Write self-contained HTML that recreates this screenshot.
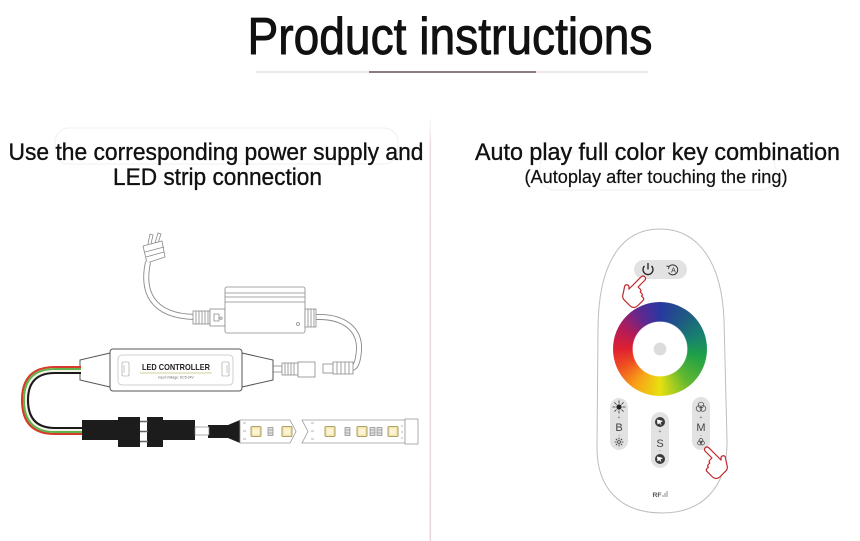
<!DOCTYPE html>
<html><head><meta charset="utf-8"><style>
html,body{margin:0;padding:0;background:#fff;}
#w{position:relative;width:860px;height:541px;overflow:hidden;background:#fff;}
svg{position:absolute;left:0;top:0;}
#ring{position:absolute;left:613px;top:302px;width:94px;height:94px;border-radius:50%;
background:radial-gradient(circle at 50% 50%, #dcdcdc 0 6px, #fff 6.8px 27px, rgba(255,255,255,0) 27.8px),
conic-gradient(from 0deg, #2838a0 0deg, #1f5c80 40deg, #178070 70deg, #1fa048 100deg, #62b830 140deg, #e8e010 180deg, #f8a018 215deg, #ef5020 245deg, #e02030 270deg, #b01c5a 300deg, #602890 330deg, #2838a0 360deg);}
</style></head><body><div id="w">
<svg width="860" height="541" viewBox="0 0 860 541" font-family="'Liberation Sans', sans-serif">
<defs>
<linearGradient id="vd" x1="0" y1="0" x2="0" y2="1"><stop offset="0" stop-color="#f4eaea" stop-opacity="0"/><stop offset="0.08" stop-color="#ecdcdc"/><stop offset="1" stop-color="#ead8d8"/></linearGradient>
</defs>
<!-- title -->
<text x="450" y="54" text-anchor="middle" font-size="52" fill="#111" stroke="#111" stroke-width="0.9" textLength="405" lengthAdjust="spacingAndGlyphs">Product instructions</text>
<line x1="256" y1="72" x2="648" y2="72" stroke="#e6e0e0" stroke-width="1.5"/>
<line x1="369" y1="72" x2="536" y2="72" stroke="#8c7c82" stroke-width="2"/>
<!-- divider -->
<rect x="429.5" y="112" width="1.6" height="429" fill="url(#vd)"/>
<!-- faint boxes -->
<rect x="55" y="128" width="343" height="36" rx="14" fill="none" stroke="#f3f3f3" stroke-width="1.2"/>
<rect x="540" y="152" width="235" height="38" rx="14" fill="none" stroke="#f3f3f3" stroke-width="1.2"/>
<!-- subtitles -->
<g fill="#111" stroke="#111" stroke-width="0.35">
<text x="216" y="160" text-anchor="middle" font-size="24" textLength="415" lengthAdjust="spacingAndGlyphs">Use the corresponding power supply and</text>
<text x="217.5" y="185" text-anchor="middle" font-size="24" textLength="209" lengthAdjust="spacingAndGlyphs">LED strip connection</text>
<text x="657.5" y="160" text-anchor="middle" font-size="24" textLength="365" lengthAdjust="spacingAndGlyphs">Auto play full color key combination</text>
<text x="656" y="183" text-anchor="middle" font-size="18" stroke-width="0.2" textLength="263" lengthAdjust="spacingAndGlyphs">(Autoplay after touching the ring)</text>
</g>

<!-- ===== LEFT DIAGRAM ===== -->
<g fill="none" stroke="#8a8a8a" stroke-width="0.8">
 <path d="M148,244 L150,234 L153,235 L151,244 M155,243 L158,233 L161,234 L158,243" fill="#fff"/>
 <path d="M143,246 L162,241 L165,257 L147,263 Z" fill="#fff"/>
 <path d="M145,252 L164,247 M146,257 L164,252"/>
</g>
<path d="M148,262 C142,290 150,316 195,317" fill="none" stroke="#8a8a8a" stroke-width="6"/>
<path d="M148,262 C142,290 150,316 195,317" fill="none" stroke="#fff" stroke-width="4.2"/>
<path d="M316,317 C345,316 360,330 359,350 C358,362 356,367 352,368" fill="none" stroke="#8a8a8a" stroke-width="6"/>
<path d="M316,317 C345,316 360,330 359,350 C358,362 356,367 352,368" fill="none" stroke="#fff" stroke-width="4.2"/>
<g fill="#fff" stroke="#8a8a8a" stroke-width="0.8">
 <rect x="193" y="311" width="17" height="13"/>
 <path d="M196,311v13M199,311v13M202,311v13M205,311v13M208,311v13"/>
 <rect x="210" y="309" width="15" height="17"/>
 <path d="M214,314 h5 v7 h-5z M221,317 a1.2,1.2 0 1,0 0.1,0"/>
 <rect x="225" y="287" width="80" height="46" rx="2"/>
 <path d="M225,293 H305 M225,297 H305 M225,302 H305"/>
 <circle cx="298" cy="324" r="1.5"/>
 <rect x="305" y="309" width="11" height="18"/>
 <path d="M308,309v18M311,309v18M314,309v18"/>
 <rect x="323" y="364" width="10" height="9"/>
 <rect x="333" y="362" width="20" height="12"/>
 <path d="M337,362v12M341,362v12M345,362v12M349,362v12"/>
 <rect x="273" y="366" width="9" height="6"/>
 <rect x="282" y="363" width="16" height="12"/>
 <path d="M285,363v12M288,363v12M291,363v12M294,363v12"/>
 <rect x="298" y="362" width="17" height="15"/>
</g>
<!-- controller -->
<g fill="#fff" stroke="#555" stroke-width="1">
 <path d="M110,353 L80,360 L80,380 L110,387 Z"/>
 <path d="M242,353 L273,360 L273,380 L242,387 Z"/>
 <rect x="110" y="349" width="132" height="42" rx="3"/>
 <rect x="118" y="355" width="115" height="30" rx="4" stroke="#c4c4c4" stroke-width="0.8"/>
 <rect x="122" y="362" width="7" height="14" rx="1" stroke="#999" stroke-width="0.6"/>
 <rect x="222" y="362" width="7" height="14" rx="1" stroke="#999" stroke-width="0.6"/>
</g>
<path d="M124,365v8M227,365v8" stroke="#bbb" stroke-width="0.8"/>
<text x="176" y="370" text-anchor="middle" font-family="'Liberation Sans', sans-serif" font-size="8.5" font-weight="bold" fill="#222" textLength="68" lengthAdjust="spacingAndGlyphs">LED CONTROLLER</text>
<line x1="140" y1="373" x2="212" y2="373" stroke="#cfcf96" stroke-width="0.9"/>
<text x="176" y="378.5" text-anchor="middle" font-family="'Liberation Sans', sans-serif" font-size="3.4" fill="#666">Input Voltage: DC5-24V</text>
<!-- wires -->
<g fill="none" stroke-width="2.1">
 <path d="M81,367 L55,367 Q22,367 22,400 Q22,434 55,434 L83,434" stroke="#d63a2a"/>
 <path d="M81,369 L55,369 Q24,369 24,400 Q24,432 55,432 L83,432" stroke="#5fb34a"/>
 <path d="M81,371 L55,371 Q26,371 26,400 Q26,430 55,430 L83,430" stroke="#f2f2ea"/>
 <path d="M81,373 L55,373 Q28,373 28,400 Q28,428 55,428 L83,428" stroke="#1a1a1a"/>
</g>
<g fill="#1c1c1c">
 <rect x="82" y="420" width="37" height="20"/>
 <rect x="118" y="417" width="22" height="30"/>
 <rect x="147" y="417" width="16" height="30"/>
 <rect x="163" y="420" width="32" height="20"/>
 <rect x="208" y="425" width="20" height="13"/>
 <path d="M228,425 L240,420 L240,443 L228,438 Z"/>
</g>
<path d="M140,421.5H148M140,431.5H148M140,441.5H148" stroke="#666" stroke-width="1.4"/>
<rect x="195" y="427" width="14" height="8" fill="#fff" stroke="#888" stroke-width="0.7"/>
<g stroke="#9a9a9a" stroke-width="0.8" fill="#fff">
 <path d="M240,420 L290,420 L296,431.5 L290,443 L240,443 Z"/>
 <path d="M302,420 L405,420 L405,443 L302,443 L308,431.5 Z"/>
 <rect x="405" y="419" width="13" height="25"/>
</g>
<path d="M243,423 h3 M243,431 h3 M243,439 h3 M311,423 h3 M311,431 h3 M311,439 h3 M402,425 v2 M402,431 v2 M402,437 v2" stroke="#999" stroke-width="0.7"/>
<g fill="#f3e6a6" stroke="#958650" stroke-width="0.8">
 <rect x="251" y="426.5" width="10" height="10" rx="1"/>
 <rect x="282" y="426.5" width="10" height="10" rx="1"/>
 <rect x="325" y="426.5" width="10" height="10" rx="1"/>
 <rect x="357" y="426.5" width="10" height="10" rx="1"/>
 <rect x="388" y="426.5" width="10" height="10" rx="1"/>
</g>
<g fill="#fbf4d8" stroke="none">
 <rect x="253" y="428.5" width="6" height="6"/><rect x="284" y="428.5" width="6" height="6"/>
 <rect x="327" y="428.5" width="6" height="6"/><rect x="359" y="428.5" width="6" height="6"/><rect x="390" y="428.5" width="6" height="6"/>
</g>
<g fill="#e0e0e0" stroke="#777" stroke-width="0.6">
 <rect x="268" y="427.5" width="5" height="8"/>
 <rect x="345" y="427.5" width="5" height="8"/>
 <rect x="370" y="427.5" width="5" height="8"/>
 <rect x="377" y="427.5" width="5" height="8"/>
</g>
<path d="M268,430h5M268,433h5M345,430h5M345,433h5M370,430h5M370,433h5M377,430h5M377,433h5" stroke="#777" stroke-width="0.5"/>

<!-- ===== REMOTE ===== -->
<path d="M660,229 C700,229 722,265 724,320 L727,440 C728,490 700,513 662,513 C622,513 596,490 597,445 L598,330 C598,265 620,229 660,229 Z" fill="#fff" stroke="#bdbdbd" stroke-width="1"/>
<rect x="634" y="260" width="53" height="19" rx="9.5" fill="#e2e2e2"/>
<path d="M644.5,266 A5,5 0 1,0 651.5,266" fill="none" stroke="#222" stroke-width="1.3"/>
<line x1="648" y1="263" x2="648" y2="269.5" stroke="#222" stroke-width="1.3"/>
<path d="M669,266.5 A5,5 0 1,1 668.5,272.5" fill="none" stroke="#333" stroke-width="1"/>
<path d="M666.5,266 l2.5,0.5 l-0.5,2.4" fill="none" stroke="#333" stroke-width="0.9"/>
<text x="673.5" y="272.6" text-anchor="middle" font-size="7" fill="#333">A</text>
<rect x="610" y="398" width="18" height="52" rx="9" fill="#e2e2e2"/>
<rect x="651" y="412" width="18" height="56" rx="9" fill="#e2e2e2"/>
<rect x="692" y="397" width="18" height="53" rx="9" fill="#e2e2e2"/>
<circle cx="619" cy="407" r="2.6" fill="#222"/>
<g stroke="#333" stroke-width="0.8">
 <path d="M619,400.5v3M619,410.5v3M612.5,407h3M622.5,407h3M614.4,402.4l2.1,2.1M621.5,409.5l2.1,2.1M623.6,402.4l-2.1,2.1M616.5,409.5l-2.1,2.1"/>
 <circle cx="619" cy="442" r="1.4" fill="none"/>
 <path d="M619,437.5v2M619,444.5v2M614.5,442h2M621.5,442h2M615.8,438.8l1.4,1.4M620.8,443.8l1.4,1.4M622.2,438.8l-1.4,1.4M617.2,443.8l-1.4,1.4"/>
</g>
<text x="619" y="419" text-anchor="middle" font-size="5" fill="#666">+</text>
<text x="619" y="431" text-anchor="middle" font-size="11" fill="#444">B</text>
<text x="619" y="437" text-anchor="middle" font-size="5" fill="#666">-</text>
<circle cx="660" cy="422" r="5" fill="#3a3a3a"/>
<path d="M657,419.5 L663,421 L660.5,422.5 L661.5,425.5 L659.3,423.3 L657.5,424.5 Z" fill="#fff"/>
<text x="660" y="433" text-anchor="middle" font-size="5" fill="#666">+</text>
<text x="660" y="447" text-anchor="middle" font-size="11" fill="#444">S</text>
<text x="660" y="452" text-anchor="middle" font-size="5" fill="#666">-</text>
<circle cx="660" cy="459" r="5" fill="#3a3a3a"/>
<path d="M657,456.5 L663,458 L660.5,459.5 L661.5,462.5 L659.3,460.3 L657.5,461.5 Z" fill="#fff"/>
<g fill="none" stroke="#444" stroke-width="0.7">
 <circle cx="701" cy="405" r="2.8"/><circle cx="699" cy="408.5" r="2.8"/><circle cx="703" cy="408.5" r="2.8"/>
 <circle cx="701" cy="440.5" r="2"/><circle cx="699.6" cy="443" r="2"/><circle cx="702.4" cy="443" r="2"/>
</g>
<text x="701" y="419" text-anchor="middle" font-size="5" fill="#666">+</text>
<text x="701" y="431" text-anchor="middle" font-size="11" fill="#444">M</text>
<text x="701" y="437" text-anchor="middle" font-size="5" fill="#666">-</text>
<text x="657" y="497" text-anchor="middle" font-size="6" font-weight="bold" fill="#555" textLength="9" lengthAdjust="spacingAndGlyphs">RF</text>
<path d="M663,497v-2M665,497v-4M667,497v-6" stroke="#777" stroke-width="0.8"/>
</svg>
<div id="ring"></div>
<svg width="860" height="541" viewBox="0 0 860 541">
<g fill="#fff" stroke="#c1272d" stroke-width="1.2" stroke-linejoin="round">
 <path transform="translate(631,287) rotate(45)" d="M0,0 L0,-14 Q0,-17 2.5,-17 Q5,-17 5,-14 L5,-5 L8,-5 Q10,-5 10,-3 L12,-3 Q14,-3 14,-1 L16,-1 Q18,-1 18,1 L18,8 Q18,14 12,14 L4,14 Q1,14 -1,10 L-5,4 Q-6,2 -4,1 Q-2,0 0,3 Z"/>
 <path transform="translate(719,458) rotate(-45) scale(-1,1)" d="M0,0 L0,-14 Q0,-17 2.5,-17 Q5,-17 5,-14 L5,-5 L8,-5 Q10,-5 10,-3 L12,-3 Q14,-3 14,-1 L16,-1 Q18,-1 18,1 L18,8 Q18,14 12,14 L4,14 Q1,14 -1,10 L-5,4 Q-6,2 -4,1 Q-2,0 0,3 Z"/>
</g>
</svg>
</div></body></html>
